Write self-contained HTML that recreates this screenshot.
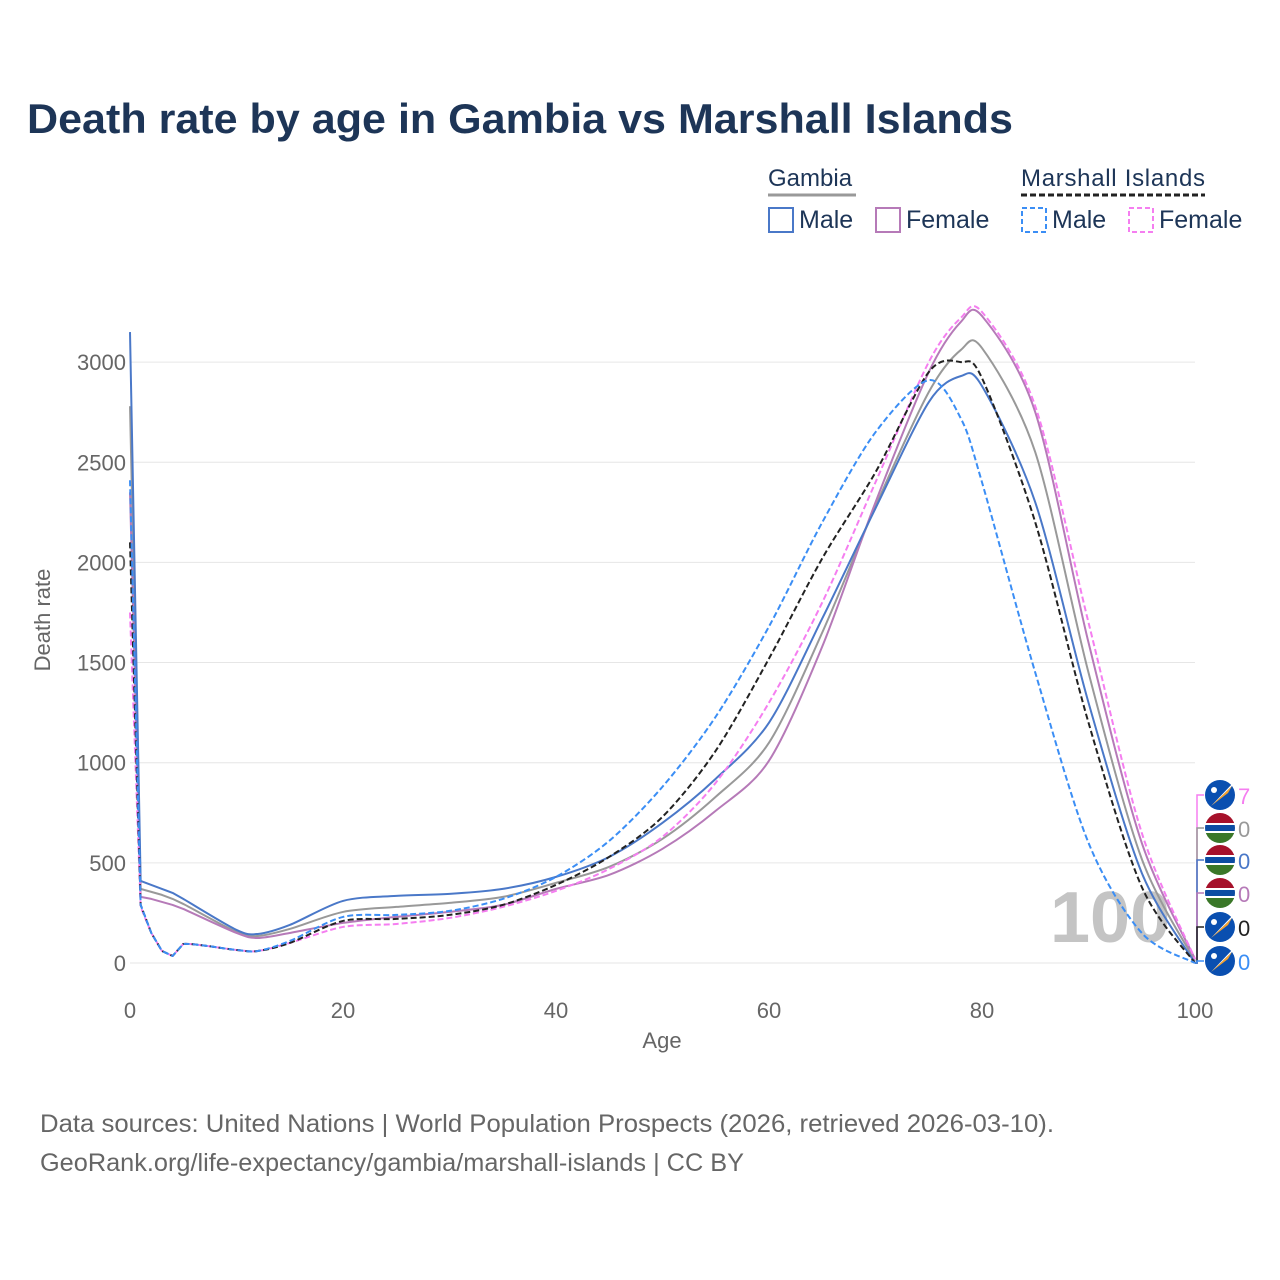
<!DOCTYPE html>
<html><head><meta charset="utf-8">
<style>
body{margin:0;background:#fff;}
svg{display:block;font-family:"Liberation Sans","DejaVu Sans",sans-serif;}
</style></head>
<body>
<svg id="chart" width="1280" height="1280" viewBox="0 0 1280 1280">
<text x="27" y="133" font-size="42" font-weight="bold" fill="#1d3557" textLength="986" lengthAdjust="spacingAndGlyphs">Death rate by age in Gambia vs Marshall Islands</text>
<g>
 <text x="768" y="186" font-size="24" fill="#1d3557">Gambia</text>
 <line x1="768" y1="195" x2="856" y2="195" stroke="#999" stroke-width="3"/>
 <text x="1021" y="186" font-size="24" fill="#1d3557" textLength="184">Marshall Islands</text>
 <line x1="1021" y1="195" x2="1205" y2="195" stroke="#222" stroke-width="3" stroke-dasharray="6,3"/>
 <g><rect x="769" y="208" width="24" height="24" fill="none" stroke="#4a78c8" stroke-width="2"/><text x="799" y="228" font-size="25" fill="#1d3557">Male</text></g>
 <g><rect x="876" y="208" width="24" height="24" fill="none" stroke="#b67ab8" stroke-width="2"/><text x="906" y="228" font-size="25" fill="#1d3557">Female</text></g>
 <g><rect x="1022" y="208" width="24" height="24" fill="none" stroke="#3b8ef5" stroke-width="2" stroke-dasharray="5,3"/><text x="1052" y="228" font-size="25" fill="#1d3557">Male</text></g>
 <g><rect x="1129" y="208" width="24" height="24" fill="none" stroke="#f57ef0" stroke-width="2" stroke-dasharray="5,3"/><text x="1159" y="228" font-size="25" fill="#1d3557">Female</text></g>
</g>
<g id="grid"></g>
<g id="axes"></g>
<text x="1050" y="942" font-size="72" font-weight="bold" fill="#c4c4c4">100</text>
<g id="series"></g>
<g id="endlabels"></g>
<text x="662" y="1048" font-size="22" fill="#666" text-anchor="middle">Age</text>
<text transform="translate(50,620) rotate(-90)" font-size="22" fill="#666" text-anchor="middle">Death rate</text>
<text x="40" y="1132" font-size="25" fill="#666" textLength="1014" lengthAdjust="spacingAndGlyphs">Data sources: United Nations | World Population Prospects (2026, retrieved 2026-03-10).</text>
<text x="40" y="1171" font-size="25" fill="#666" textLength="704" lengthAdjust="spacingAndGlyphs">GeoRank.org/life-expectancy/gambia/marshall-islands | CC BY</text>
</svg>
<script>
const ages = [0,1,2,3,4,5,10,12,15,20,25,30,35,40,45,50,55,60,65,70,75,78,80,85,90,95,100];
const gambiaMale   = [3150,410,390,370,350,320,165,145,190,310,335,345,370,430,530,700,920,1200,1720,2270,2800,2930,2880,2300,1300,450,0];
const gambiaFemale = [2350,330,320,305,290,270,150,125,150,200,230,255,290,370,440,570,760,1010,1580,2300,2950,3200,3230,2750,1600,600,20];
const gambiaTotal  = [2780,370,355,340,320,295,155,135,170,255,280,300,330,400,480,620,830,1100,1650,2280,2850,3060,3070,2550,1450,520,10];
const mhMale       = [2410,290,150,60,35,95,65,60,110,230,240,260,320,430,610,880,1230,1680,2200,2650,2910,2720,2400,1450,600,150,0];
const mhTotal      = [2100,290,150,60,35,95,65,60,100,210,220,240,290,390,530,730,1060,1520,2020,2450,2950,3000,2920,2200,1200,380,0];
const mhFemale     = [1750,280,150,60,35,95,65,60,100,180,195,225,280,360,470,630,900,1300,1800,2400,3000,3220,3250,2780,1700,650,20];
const yTicks = [0,500,1000,1500,2000,2500,3000];
const xTicks = [0,20,40,60,80,100];
const endValues = ["7","0","0","0","0","0"];

const NS="http://www.w3.org/2000/svg";
const X = a => 130 + a*10.65;
const Y = v => 963 - v*0.2003;
function mk(tag,attrs,parent){const e=document.createElementNS(NS,tag);for(const k in attrs)e.setAttribute(k,attrs[k]);parent.appendChild(e);return e;}
const grid=document.getElementById('grid'), axes=document.getElementById('axes');
yTicks.forEach(t=>{
  const l=mk('line',{x1:130,x2:1195,y1:Y(t),y2:Y(t),stroke:'#e6e6e6','stroke-width':1},grid);
  
  
  const tx=mk('text',{x:126,y:Y(t)+8,'font-size':22,fill:'#666','text-anchor':'end'},axes);
  tx.textContent=t;
  
  
});
xTicks.forEach(t=>{
  const tx=mk('text',{x:X(t),y:1018,'font-size':22,fill:'#666','text-anchor':'middle'},axes);
  tx.textContent=t;
  
  
});
function pathFor(vals){
  const p=ages.map((a,i)=>[X(a),Y(vals[i])]);
  let d=`M${p[0][0]},${p[0][1]}`;
  for(let i=0;i<p.length-1;i++){
    const p0=p[Math.max(0,i-1)],p1=p[i],p2=p[i+1],p3=p[Math.min(p.length-1,i+2)];
    if(i<5){d+=`L${p2[0]},${p2[1]}`;continue;}
    const t=0.15;
    const c1=[p1[0]+(p2[0]-p0[0])*t,p1[1]+(p2[1]-p0[1])*t];
    const c2=[p2[0]-(p3[0]-p1[0])*t,p2[1]-(p3[1]-p1[1])*t];
    d+=`C${c1[0]},${c1[1]} ${c2[0]},${c2[1]} ${p2[0]},${p2[1]}`;
  }
  return d;
}
const series=[
 ['gambia-total',gambiaTotal,'#999',''],
 ['gambia-female',gambiaFemale,'#b67ab8',''],
 ['gambia-male',gambiaMale,'#4a78c8',''],
 ['marshall-female',mhFemale,'#f57ef0','6,3'],
 ['marshall-total',mhTotal,'#222','6,3'],
 ['marshall-male',mhMale,'#3b8ef5','6,3'],
];
const sg=document.getElementById('series');
series.forEach(s=>{
  const e=mk('path',{d:pathFor(s[1]),fill:'none',stroke:s[2],'stroke-width':2,'stroke-linejoin':'round'},sg);
  if(s[3])e.setAttribute('stroke-dasharray',s[3]);
  
  
});
const el=document.getElementById('endlabels');
const labs=[['marshall-female','#f57ef0','mh'],['gambia-total','#999','gm'],['gambia-male','#4a78c8','gm'],['gambia-female','#b67ab8','gm'],['marshall-total','#222','mh'],['marshall-male','#3b8ef5','mh']];
const ly=[795,828,860,893,927,961];
labs.forEach((l,i)=>{
  const y=ly[i];
  const ln=mk('path',{d:`M1195,963 L1197,963 L1197,${y} L1204,${y}`,fill:'none',stroke:l[1],'stroke-width':1.5},el);
  
  
  const g=mk('g',{},el);
  
  
  const cx=1220,r=15;
  if(l[2]==='gm'){
    const cid='c'+i;
    const cp=mk('clipPath',{id:cid},g);mk('circle',{cx:cx,cy:y,r:r},cp);
    const fg=mk('g',{'clip-path':`url(#${cid})`},g);
    mk('rect',{x:cx-r,y:y-r,width:2*r,height:10,fill:'#a6112a'},fg);
    mk('rect',{x:cx-r,y:y-5,width:2*r,height:10,fill:'#fff'},fg);
    mk('rect',{x:cx-r,y:y-3,width:2*r,height:6,fill:'#0c4ca3'},fg);
    mk('rect',{x:cx-r,y:y+5,width:2*r,height:10,fill:'#3a7728'},fg);
  } else {
    mk('circle',{cx:cx,cy:y,r:r,fill:'#0a4fb0'},g);
    mk('polygon',{points:`${cx-9},${y+11} ${cx+12},${y-9} ${cx+8},${y-2}`,fill:'#f7a12a'},g);
    mk('polygon',{points:`${cx-9},${y+11} ${cx+12},${y-9} ${cx+13},${y-12}`,fill:'#fff'},g);
    mk('circle',{cx:cx-6,cy:y-5,r:3,fill:'#fff'},g);
  }
  const t=mk('text',{x:1238,y:y+9,'font-size':22,fill:l[1]},g);
  t.textContent=endValues[i];
});
</script>
</body></html>
